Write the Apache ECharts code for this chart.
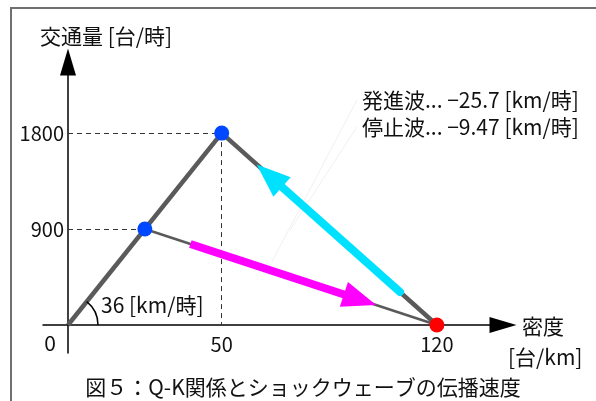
<!DOCTYPE html>
<html>
<head>
    <meta charset="UTF-8">
    <title>Q-K</title>
    <script src="https://cdn.jsdelivr.net/npm/echarts@6/dist/echarts.min.js"></script>
    <style>
        html, body { margin: 0; padding: 0; background: #fff; }
        #qk_chart { width: 596px; height: 401px; }
    </style>
</head>
<body>
<div id="qk_chart"></div>
<script>
    var FONT = '"Noto Sans CJK JP", "Noto Sans", sans-serif';

    // 軸の目盛
    var densityTicks = [50, 120];
    var flowTicks = [900, 1800];

    // Q-K図の各線 [密度, 交通量]
    var freeFlow = [[0, 0], [50, 1800]];
    var congested = [[50, 1800], [120, 0]];
    var stopWave = [[25, 900], [120, 0]];
    var bluePoints = [[25, 900], [50, 1800]];
    var jamPoint = [[120, 0]];

    // ショックウェーブの矢印 (始点, 終点)
    var startArrow = [[108, 310], [65.5, 1400]];
    var stopArrow = [[39.8, 760], [95, 237]];

    // 注釈の引出線
    var leaderA = [[94, 2111], [66.3, 591]];
    var leaderB = [[94, 1857], [72.2, 891]];

    var myChart = echarts.init(document.getElementById('qk_chart'));

    function txt(x, y, s, align) {
        return {
            type: 'text', x: x, y: y, silent: true,
            style: { text: s, font: '21px ' + FONT, fill: '#111', align: align || 'left', verticalAlign: 'middle' }
        };
    }

    myChart.setOption({
        animation: false,
        grid: { left: 43, right: 93, top: 62, bottom: 48, containLabel: false, outerBoundsMode: 'none' },
        xAxis: {
            type: 'value', min: -8.13, max: 141.5,
            axisLine: { onZero: true, symbol: ['none', 'triangle'], symbolSize: [16, 27], lineStyle: { color: '#000', width: 1.5 } },
            axisTick: { show: false },
            splitLine: { show: false },
            axisLabel: { customValues: densityTicks, fontSize: 20, fontFamily: FONT, color: '#111', margin: -19, formatter: function (v) { return '' + v; } }
        },
        yAxis: {
            type: 'value', min: -262.7, max: 2467,
            axisLine: { onZero: true, symbol: ['none', 'triangle'], symbolSize: [16, 27], lineStyle: { color: '#000', width: 1.5 } },
            axisTick: { show: false },
            splitLine: { show: false },
            axisLabel: { customValues: flowTicks, fontSize: 20, fontFamily: FONT, color: '#111', margin: -21, formatter: function (v) { return '' + v; } }
        },
        graphic: [
            { type: 'polyline', silent: true, shape: { points: [[11, 402], [11, 8], [597, 8]] }, style: { stroke: '#707070', lineWidth: 2, fill: null } },
            txt(40, 36, '交通量 [台/時]'),
            txt(522, 326, '密度'),
            txt(508, 357, '[台/km]'),
            txt(50, 343, '0', 'center'),
            txt(101, 305, '36 [km/時]'),
            txt(362, 100, '発進波... −25.7 [km/時]'),
            txt(362, 127, '停止波... −9.47 [km/時]'),
            txt(303, 387, '図５：Q-K関係とショックウェーブの伝播速度', 'center')
        ],
        series: [
            {
                type: 'line', data: [], silent: true, z: 1,
                markLine: {
                    silent: true, symbol: 'none', label: { show: false },
                    lineStyle: { color: '#f0f0f0', width: 1, type: 'solid' },
                    data: [
                        [{ coord: leaderA[0] }, { coord: leaderA[1] }],
                        [{ coord: leaderB[0] }, { coord: leaderB[1] }]
                    ]
                }
            },
            {
                type: 'line', data: freeFlow, showSymbol: false, silent: true, z: 2,
                lineStyle: { color: '#5a5a5a', width: 4.5 },
                markLine: {
                    silent: true, symbol: 'none', label: { show: false },
                    lineStyle: { color: '#333', width: 1, type: [5, 4] },
                    data: [
                        [{ coord: [0, flowTicks[1]] }, { coord: bluePoints[1] }],
                        [{ coord: bluePoints[1] }, { coord: [densityTicks[0], 0] }],
                        [{ coord: [0, flowTicks[0]] }, { coord: bluePoints[0] }]
                    ]
                }
            },
            {
                type: 'line', data: congested, showSymbol: false, silent: true, z: 2,
                lineStyle: { color: '#5a5a5a', width: 4.5 }
            },
            {
                type: 'line', data: stopWave, showSymbol: false, silent: true, z: 2,
                lineStyle: { color: '#5a5a5a', width: 2.5 }
            },
            {
                type: 'line', data: [], silent: true, z: 3,
                markLine: {
                    silent: true, symbol: ['none', 'triangle'], symbolSize: [26, 34], label: { show: false },
                    lineStyle: { color: '#00e1ff', width: 8, type: 'solid', cap: 'round' },
                    data: [[{ coord: startArrow[0] }, { coord: startArrow[1] }]]
                }
            },
            {
                type: 'line', data: [], silent: true, z: 3,
                markLine: {
                    silent: true, symbol: ['none', 'triangle'], symbolSize: [26, 34], label: { show: false },
                    lineStyle: { color: '#ff00ff', width: 8, type: 'solid' },
                    data: [[{ coord: stopArrow[0] }, { coord: stopArrow[1] }]]
                }
            },
            {
                type: 'custom', silent: true, z: 3,
                data: [freeFlow[0]],
                renderItem: function (params, api) {
                    var o = api.coord([api.value(0), api.value(1)]);
                    var p = api.coord(freeFlow[1]);
                    var a = Math.atan2(p[1] - o[1], p[0] - o[0]);
                    return {
                        type: 'arc',
                        shape: { cx: o[0], cy: o[1], r: 30, startAngle: a, endAngle: 0, clockwise: true },
                        style: { stroke: '#000', lineWidth: 1.5, fill: null }
                    };
                }
            },
            {
                type: 'scatter', data: bluePoints, symbolSize: 15, silent: true, z: 5,
                itemStyle: { color: '#0048ff', opacity: 1 }
            },
            {
                type: 'scatter', data: jamPoint, symbolSize: 15, silent: true, z: 5,
                itemStyle: { color: '#ff0000', opacity: 1 }
            }
        ]
    });
</script>
</body>
</html>
